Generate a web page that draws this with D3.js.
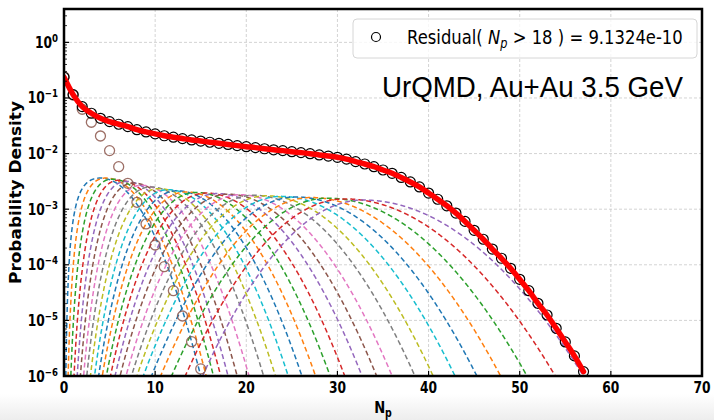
<!DOCTYPE html>
<html><head><meta charset="utf-8">
<script src="https://cdn.jsdelivr.net/npm/d3@7"></script>
<style>body{margin:0;background:#fff}svg{display:block}</style>
</head><body>
<svg id="chart" width="714" height="420"></svg>
<script>
// ---------- data ----------
const nP = [0,1,2,3,4,5,6,7,8,9,10,11,12,13,14,15,16,17,18,19,20,21,22,23,24,25,26,27,28,29,30,31,32,33,34,35,36,37,38,39,40,41,42,43,44,45,46,47,48,49,50,51,52,53,54,55,56,57];
const probDensity = [0.236,0.115,0.0698,0.0531,0.0431,0.0375,0.0337,0.0305,0.0269,0.0245,
  0.0226,0.0209,0.0197,0.0186,0.0176,0.0168,0.0160,0.0153,0.0146,0.0139,
  0.0133,0.0128,0.0122,0.0117,0.0113,0.0108,0.0104,0.00995,0.00944,0.00902,
  0.00857,0.00794,0.00716,0.00650,0.00581,0.00507,0.00442,0.00372,0.00309,0.00251,
  0.00195,0.00151,0.00115,0.000851,0.000603,0.000417,0.000288,0.000192,0.000131,0.0000865,
  0.0000548,0.0000342,0.0000203,0.0000125,0.0000072,0.0000041,0.0000023,0.0000012];
const residualN = [0,1,2,3,4,5,6,7,8,9,10,11,12,13,14,15];
const residualValues = [0.24,0.113,0.0627,0.0366,0.0207,0.0113,0.00581,0.00292,0.00133,0.000542,0.000227,0.0000925,0.0000342,0.000012,0.00000414,0.00000134];
// dashed components: peak position, peak height, left / right N where they reach 1e-6
const compMean  = [4.0,4.6,5.3,6.0,6.8,7.6,8.5,9.5,10.4,11.4,12.4,13.4,14.5,15.6,16.8,18.0,19.3,20.8,22.2,23.8,25.4,27.1,28.9,30.8,32.8];
const compPeak  = [3.63e-3,3.63e-3,3.47e-3,3.31e-3,3.16e-3,2.95e-3,2.69e-3,2.51e-3,2.34e-3,2.24e-3,2.14e-3,2.04e-3,2.0e-3,1.95e-3,1.91e-3,1.86e-3,1.82e-3,1.78e-3,1.74e-3,1.70e-3,1.66e-3,1.62e-3,1.58e-3,1.53e-3,1.46e-3];
const compLeft  = [0.2,0.45,0.75,1.1,1.45,1.8,2.15,2.5,2.9,3.35,3.8,4.2,4.65,5.1,5.6,6.15,6.8,7.4,8.0,8.7,9.6,10.6,11.8,13.3,15.2];
const compRight = [15.0,15.6,16.4,17.2,18.0,19.0,20.3,21.9,23.2,24.6,26.1,27.6,29.2,30.8,32.7,34.3,36.0,38.5,40.5,42.9,45.3,47.9,50.8,53.9,57.0];
const compLeftShape = [0,0.05,0.1,0.15,0.2,0.25,0.3,0.35,0.4,0.45,0.5,0.55,0.6,0.65,0.7,0.75,0.8,0.85,0.9,0.95,1,1,1,1,1];
const xTickValues = [0,10,20,30,40,50,60,70];
const yTickExponents = [-6,-5,-4,-3,-2,-1,0];
const compColors = d3.schemeCategory10;

// ---------- layout ----------
const svg = d3.select("#chart");
const L = 64, R = 702, T = 9, B = 376;
const x = d3.scaleLinear().domain([0,70]).range([L,R]);
const y = d3.scaleLog().domain([1e-6, Math.pow(10,0.6)]).range([B,T]);

const defs = svg.append("defs");
defs.append("clipPath").attr("id","clip").append("rect").attr("x",L).attr("y",T).attr("width",R-L).attr("height",B-T);
const grad = defs.append("linearGradient").attr("id","bg").attr("x1",0).attr("x2",0).attr("y1",0).attr("y2",1);
grad.append("stop").attr("offset","0").attr("stop-color","#ffffff");
grad.append("stop").attr("offset","1").attr("stop-color","#ededed");
svg.append("rect").attr("x",0).attr("y",394).attr("width",714).attr("height",26).attr("fill","url(#bg)");

// grid
const grid = svg.append("g");
grid.selectAll("line.gx").data(xTickValues.slice(1,-1)).join("line")
  .attr("x1",d=>x(d)).attr("x2",d=>x(d)).attr("y1",T).attr("y2",B)
  .attr("stroke","#c8c8c8").attr("stroke-width",0.8).attr("stroke-dasharray","3,2");
grid.selectAll("line.gy").data(yTickExponents).join("line")
  .attr("x1",L).attr("x2",R).attr("y1",d=>y(Math.pow(10,d))).attr("y2",d=>y(Math.pow(10,d)))
  .attr("stroke","#c8c8c8").attr("stroke-width",0.8).attr("stroke-dasharray","3,2");

const plot = svg.append("g").attr("clip-path","url(#clip)");

// components
function compLog(k, n){
  const mu = compMean[k], pk = Math.log10(compPeak[k]), drop = pk + 6;
  if (n >= mu){ const r = (n-mu)/(compRight[k]-mu); return pk - drop*r*r; }
  if (n <= 0) return -8;
  const lam = compLeftShape[k];
  const t = v => lam < 1e-6 ? Math.log(v/mu) : (Math.pow(v,lam)-Math.pow(mu,lam))/lam;
  const r = t(n)/t(compLeft[k]);
  return pk - drop*r*r;
}
const line = d3.line().x(d=>x(d[0])).y(d=>y(d[1]));
compMean.forEach((mu,k)=>{
  const pts = [];
  const start = Math.max(0.01, compLeft[k]-0.4), end = Math.min(70, compRight[k]+0.4);
  for (let n=start; n<=end+1e-9; n+=0.04){ pts.push([n, Math.max(1e-8, Math.pow(10, compLog(k,n)))]); }
  plot.append("path").attr("d",line(pts)).attr("fill","none")
    .attr("stroke",compColors[k%10]).attr("stroke-width",1.5).attr("stroke-dasharray","5,3");
});

// residual circles
plot.selectAll("circle.res").data(residualN).join("circle")
  .attr("cx",(d)=>x(d)).attr("cy",(d,i)=>y(residualValues[i])).attr("r",5)
  .attr("fill","none").attr("stroke","#8c564b").attr("stroke-opacity",0.85).attr("stroke-width",1.3);

// data circles
plot.selectAll("circle.dat").data(nP).join("circle")
  .attr("cx",d=>x(d)).attr("cy",(d,i)=>y(probDensity[i])).attr("r",5)
  .attr("fill","none").attr("stroke","#000").attr("stroke-width",1.2);

// fit line
plot.append("path").datum(nP.map((n,i)=>[n,probDensity[i]]))
  .attr("d", d3.line().x(d=>x(d[0])).y(d=>y(d[1])).curve(d3.curveMonotoneX))
  .attr("fill","none").attr("stroke","#ff0000").attr("stroke-width",5.5).attr("stroke-linecap","round");

// frame
svg.append("rect").attr("x",L).attr("y",T).attr("width",R-L).attr("height",B-T)
  .attr("fill","none").attr("stroke","#000").attr("stroke-width",2.5);

// ticks (inward)
const ticks = svg.append("g").attr("stroke","#000");
yTickExponents.forEach(e=>{
  ticks.append("line").attr("x1",L).attr("x2",L+5).attr("y1",y(Math.pow(10,e))).attr("y2",y(Math.pow(10,e))).attr("stroke-width",1.2);
});
for (let e=-6;e<=0;e++){ for (let m=2;m<=9;m++){ const v=m*Math.pow(10,e); if (v>Math.pow(10,0.6)) continue;
  ticks.append("line").attr("x1",L).attr("x2",L+3).attr("y1",y(v)).attr("y2",y(v)).attr("stroke-width",0.8); } }
xTickValues.forEach(v=>{ ticks.append("line").attr("x1",x(v)).attr("x2",x(v)).attr("y1",B).attr("y2",B-5).attr("stroke-width",1.2); });

// tick labels
const fontB = "'DejaVu Sans', sans-serif";
const sx = 0.82;
xTickValues.forEach(v=>{
  svg.append("g").attr("transform",`translate(${x(v)},393) scale(${sx},1)`)
    .append("text").attr("text-anchor","middle").attr("font-family",fontB).attr("font-weight","bold")
    .attr("font-size",15).attr("fill","#000").text(v);
});
yTickExponents.forEach(e=>{
  const t = svg.append("g").attr("transform",`translate(58,${y(Math.pow(10,e))+5.5}) scale(${sx},1)`)
    .append("text").attr("text-anchor","end").attr("font-family",fontB).attr("font-weight","bold")
    .attr("font-size",15).attr("fill","#000");
  t.append("tspan").text("10");
  t.append("tspan").attr("dy",-6).attr("font-size",10.5).text(e<0?("\u2212"+(-e)):String(e));
});

// axis labels
const xl = svg.append("g").attr("transform",`translate(${(L+R)/2},413) scale(${sx},1)`)
  .append("text").attr("text-anchor","middle").attr("font-family",fontB).attr("font-weight","bold").attr("font-size",16);
xl.append("tspan").text("N");
xl.append("tspan").attr("dy",4).attr("font-size",11.5).text("p");

svg.append("text").attr("transform",`translate(21,${(T+B)/2}) rotate(-90)`)
  .attr("text-anchor","middle").attr("font-family",fontB).attr("font-weight","bold").attr("font-size",15)
  .attr("textLength",183).attr("lengthAdjust","spacingAndGlyphs").text("Probability Density");

// legend
svg.append("rect").attr("x",353).attr("y",19).attr("width",344).attr("height",39).attr("rx",4)
  .attr("fill","#fff").attr("fill-opacity",0.8).attr("stroke","#d6d6d6").attr("stroke-width",1);
svg.append("circle").attr("cx",376).attr("cy",37).attr("r",4.5).attr("fill","none").attr("stroke","#000").attr("stroke-width",1.2);
const legG = svg.append("g").attr("transform","translate(407,44)");
const lt = legG.append("text").attr("font-family",fontB).attr("font-size",19.5).attr("fill","#000");
lt.append("tspan").text("Residual( ");
lt.append("tspan").attr("font-style","italic").text("N");
lt.append("tspan").attr("font-style","italic").attr("font-size",13.5).attr("dy",4).text("p");
lt.append("tspan").attr("dy",-4).text(" > 18 ) = 9.1324e-10");
{ const w = lt.node().getComputedTextLength(); legG.attr("transform",`translate(407,44) scale(${276/w},1)`); }

// annotation
svg.append("text").attr("x",382).attr("y",97).attr("font-family","'Liberation Sans', Arial, sans-serif")
  .attr("font-size",29).attr("fill","#000").attr("textLength",301).attr("lengthAdjust","spacingAndGlyphs")
  .text("UrQMD, Au+Au 3.5 GeV");
</script>
</body></html>
